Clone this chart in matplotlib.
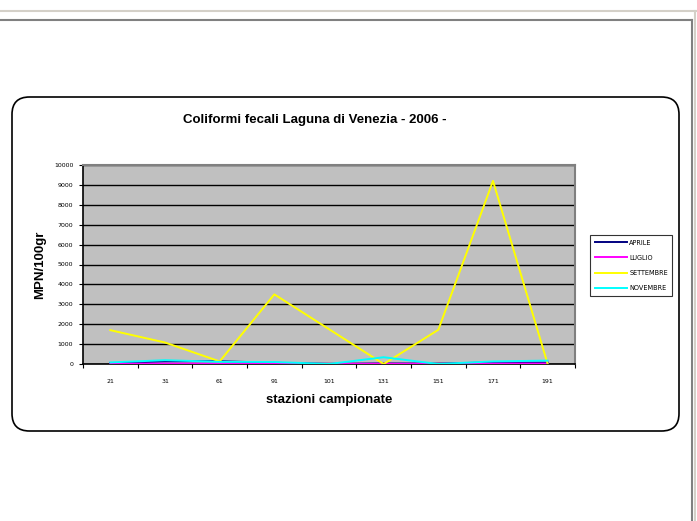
import matplotlib
matplotlib.use("Agg")
import matplotlib.pyplot as plt
from matplotlib.patches import FancyBboxPatch
from matplotlib.lines import Line2D
import numpy as np

# Data
stazioni = ["21", "31", "61", "91", "101", "131", "151", "171", "191"]
aprile = [40, 130, 140, 60, 10, 30, 20, 80, 70]
luglio = [10, 20, 10, 10, 5, 10, 5, 20, 20]
settembre = [1700, 1080, 130, 3500, 1750, 0, 1720, 9200, 0]
novembre = [80, 190, 110, 100, 0, 340, 0, 130, 170]
y_ticks = list(range(0, 10001, 1000))

series = [
    ("APRILE", aprile, "#000080"),
    ("LUGLIO", luglio, "#FF00FF"),
    ("SETTEMBRE", settembre, "#FFFF00"),
    ("NOVEMBRE", novembre, "#00FFFF"),
]

W, H = 697, 521
fig = plt.figure(figsize=(W / 100, H / 100), dpi=100)
fig.patch.set_facecolor("white")

def fx(px):
    return px / W

def fy(py):
    return 1 - py / H

# Window frame lines
for ln in [
    Line2D([0, 1], [fy(11), fy(11)], color="#D4D0C8", lw=1.5),
    Line2D([0, fx(692)], [fy(20), fy(20)], color="#808080", lw=1.5),
    Line2D([fx(692), fx(692)], [fy(20), 0], color="#808080", lw=1.5),
    Line2D([fx(695), fx(695)], [fy(11), 0], color="#D4D0C8", lw=1.5),
]:
    ln.set_zorder(-2)
    fig.add_artist(ln)

# Rounded chart border
rect = FancyBboxPatch((fx(12), fy(431)), fx(679) - fx(12), fy(97) - fy(431),
                      boxstyle="round,pad=0,rounding_size=0.025",
                      transform=fig.transFigure, facecolor="white",
                      edgecolor="black", lw=1.2, mutation_aspect=W / H,
                      zorder=-1)
fig.add_artist(rect)

# Plot area
left, right, top, bottom = 83, 575, 165, 364
ax = fig.add_axes([fx(left), fy(bottom), fx(right) - fx(left), fy(top) - fy(bottom)])
ax.set_zorder(1)
ax.set_facecolor("#C0C0C0")
x = np.arange(len(stazioni))
for name, vals, col in series:
    ax.plot(x, vals, color=col, lw=1.4, label=name, zorder=3)

ax.set_xlim(-0.5, len(stazioni) - 0.5)
ax.set_ylim(0, 10000)
ax.set_yticks(y_ticks)
ax.set_yticklabels([str(v) for v in y_ticks], fontsize=4.5)
ax.yaxis.grid(True, color="black", lw=1.0)
ax.set_axisbelow(True)
ax.set_xticks(x)
ax.set_xticklabels(stazioni, fontsize=4.5)
ax.tick_params(axis="x", which="major", length=0, pad=11)
ax.set_xticks(np.arange(-0.5, len(stazioni), 1.0), minor=True)
ax.tick_params(axis="x", which="minor", length=3, width=0.8, direction="out")
ax.tick_params(axis="y", length=3, width=0.8, direction="out", pad=4)
for s in ["top", "right"]:
    ax.spines[s].set_color("#808080")
    ax.spines[s].set_linewidth(1.5)
for s in ["left", "bottom"]:
    ax.spines[s].set_color("black")
    ax.spines[s].set_linewidth(1.2)

# Texts
fig.text(fx(315), fy(120), "Coliformi fecali Laguna di Venezia - 2006 -",
         ha="center", va="center", fontsize=9.5, fontweight="bold",
         family="Liberation Sans")
fig.text(fx(329), fy(400), "stazioni campionate", ha="center", va="center",
         fontsize=9.5, fontweight="bold", family="Liberation Sans")
fig.text(fx(40), fy(265), "MPN/100gr", ha="center", va="center", rotation=90,
         fontsize=9.5, fontweight="bold", family="Liberation Sans")

# Legend
leg = ax.legend(loc="upper left", bbox_to_anchor=(fx(590), fy(235)),
                bbox_transform=fig.transFigure, fontsize=4.7, frameon=True,
                fancybox=False, edgecolor="black", handlelength=5.0,
                handletextpad=0.3, labelspacing=1.4, borderpad=0.7,
                borderaxespad=0)
leg.get_frame().set_linewidth(0.8)
for h in leg.get_lines():
    h.set_linewidth(1.4)

fig.savefig("out.png", dpi=100)
